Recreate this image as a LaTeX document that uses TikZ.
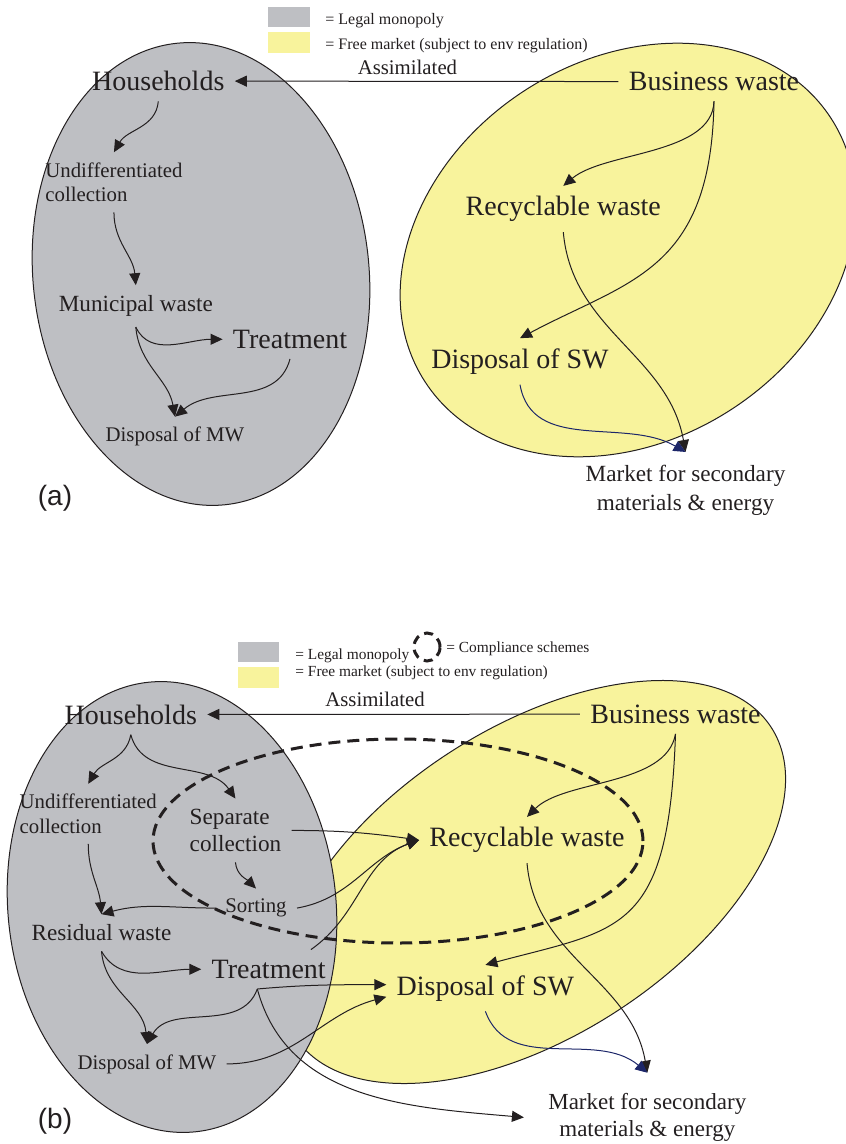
\documentclass[tikz,border=0pt]{standalone}
\usepackage{fontspec}
\setmainfont{Liberation Serif}
\newfontfamily\panelfont{Liberation Sans}
\usetikzlibrary{arrows.meta}
\definecolor{monopoly}{RGB}{190,191,195}
\definecolor{freemkt}{RGB}{248,243,156}
\definecolor{ink}{RGB}{35,31,32}
\definecolor{navy}{RGB}{28,38,105}

\begin{document}
\begin{tikzpicture}[
  x=0.5pt, y=0.5pt,
  >={Triangle[length=6pt,width=5.5pt]},
  flow/.style={->,ink,line width=0.5pt},
  blob/.style={draw=ink,line width=0.5pt},
  scheme/.style={ink,line width=1.5pt,dash pattern=on 6pt off 3.5pt},
  big/.style={font=\fontsize{14}{16}\selectfont,inner sep=5pt,text=ink},
  mid/.style={font=\fontsize{11.6}{14.5}\selectfont,inner sep=5pt,text=ink},
  small/.style={font=\fontsize{10.4}{12.2}\selectfont,inner sep=5pt,text=ink},
  key/.style={font=\fontsize{8}{10}\selectfont,inner sep=0pt,text=ink,anchor=base west},
  panel/.style={font=\panelfont\fontsize{14}{16}\selectfont,text=ink},
]
  \useasboundingbox (0,0) rectangle (845,-1144);

  % (a)
  \draw[blob,fill=freemkt,rotate around={33:(628,-250)}] (628,-250) ellipse (242 and 190);
  \draw[blob,fill=monopoly,rotate around={6:(201,-274)}] (201,-274) ellipse (168 and 232);
  \fill[monopoly] (268,-7) rectangle (310,-27);
  \fill[freemkt] (268,-32) rectangle (310,-53);
  \node[key] (ka1) at (325,-25) {= Legal monopoly};
  \node[key] (ka2) at (325,-49.3) {= Free market (subject to env regulation)};

  \node[big,anchor=base] (hh) at (158.3,-90.7) {Households};
  \node[big,anchor=base] (bw) at (714,-90.7) {Business waste};
  \node[small,anchor=base west,align=left] (ud) at (35,-201.7) {Undifferentiated\\collection};
  \node[mid,anchor=base] (mw) at (135.8,-311.7) {Municipal waste};
  \node[big,anchor=base] (tr) at (290,-348.3) {Treatment};
  \node[small,anchor=base] (dmw) at (175,-441.7) {Disposal of MW};
  \node[big,anchor=base] (rw) at (563.3,-215.7) {Recyclable waste};
  \node[big,anchor=base] (dsw) at (520,-368.3) {Disposal of SW};
  \node[mid,anchor=base,align=center,inner sep=6.5pt] (mk) at (685.5,-510.7)
    {Market for secondary\\materials \& energy};
  \node[panel,anchor=base] (pa) at (55,-505) {(a)};

  \draw[flow] (bw.west) -- node[pos=0.55,above=3pt,small,inner sep=0pt] (asa) {Assimilated} (hh.east);
  \draw[flow] (hh.south) to[out=-95,in=60] (ud.north);
  \draw[flow] (ud.south) to[out=-90,in=95] (mw.north);
  \draw[flow] (mw.south) to[out=-65,in=180] (tr.west);
  \draw[flow] (mw.south) to[out=-85,in=100] (dmw.north);
  \draw[flow] (tr.south) to[out=-105,in=40] (dmw.north);
  \draw[flow] (bw.south) to[out=-92,in=40,looseness=0.8] (rw.north);
  \draw[flow] (bw.south) to[out=-91,in=28,out distance=85pt,in distance=62pt] (dsw.north);
  \draw[flow] (rw.south) to[out=-85,in=100] (mk.north);
  \draw[flow,navy] (dsw.south) to[out=-80,in=150] (mk.north);

  % (b)
  \draw[blob,fill=freemkt,rotate around={33:(533,-882)}] (533,-882) ellipse (284 and 154);
  \draw[blob,fill=monopoly,rotate around={6:(172,-907)}] (172,-907) ellipse (164 and 226);
  \draw[scheme] (398,-841) ellipse (245 and 102);
  \fill[monopoly] (238,-642) rectangle (279,-662);
  \fill[freemkt] (238,-667) rectangle (279,-688);
  \node[key,font=\fontsize{7.7}{9}\selectfont] (kb1) at (295,-659.3) {= Legal monopoly};
  \draw[scheme,dash pattern=on 4.5pt off 3pt] (427,-647) ellipse (13 and 14);
  \node[key,font=\fontsize{7.7}{9}\selectfont] (kb3) at (446,-652.7) {= Compliance schemes};
  \node[key,font=\fontsize{7.7}{9}\selectfont] (kb2) at (295,-676.7) {= Free market (subject to env regulation)};

  \node[big,anchor=base] (hh2) at (130.8,-724) {Households};
  \node[big,anchor=base] (bw2) at (675.5,-723.3) {Business waste};
  \node[small,anchor=base west,align=left] (ud2) at (9.3,-833.3) {Undifferentiated\\collection};
  \node[mid,anchor=base west,align=left,font=\fontsize{11.6}{13.7}\selectfont] (sc) at (179.3,-851.7) {Separate\\collection};
  \node[small,anchor=base] (so) at (256,-912.7) {Sorting};
  \node[mid,anchor=base] (res) at (101.5,-940.7) {Residual waste};
  \node[big,anchor=base] (tr2) at (268.7,-978.3) {Treatment};
  \node[small,anchor=base] (dmw2) at (147,-1069) {Disposal of MW};
  \node[big,anchor=base] (rw2) at (527,-846.7) {Recyclable waste};
  \node[big,anchor=base] (dsw2) at (485.4,-995) {Disposal of SW};
  \node[mid,anchor=base,align=center,inner xsep=12pt,inner ysep=10pt,font=\fontsize{11.5}{13.7}\selectfont] (mk2) at (647.3,-1136.7)
    {Market for secondary\\materials \& energy};
  \node[panel,anchor=base] (pb) at (55,-1128) {(b)};

  \draw[flow] (bw2.west) -- node[pos=0.55,above=3.5pt,small,inner sep=0pt] (asb) {Assimilated} (hh2.east);
  \draw[flow] (hh2.south) to[out=-100,in=60] (ud2.north);
  \draw[flow] (hh2.south) to[out=-75,in=125] (sc.north);
  \draw[flow] (ud2.south) to[out=-90,in=95] (res.north);
  \draw[flow] (sc.south) to[out=-85,in=135] (so.north);
  \draw[flow] (so.west) to[out=180,in=15] (res.north);
  \draw[flow] (res.south) to[out=-60,in=180] (tr2.west);
  \draw[flow] (res.south) to[out=-85,in=95] (dmw2.north);
  \draw[flow] (tr2.-120) to[out=-110,in=60] (dmw2.north);
  \draw[flow] (tr2.-120) to[out=5,in=180] (dsw2.178);
  \draw[flow] (tr2.-120) to[out=-75,in=175] (mk2.west);
  \draw[flow] (tr2.25) to[out=35,in=200] (rw2.west);
  \draw[flow] (so.east) to[out=10,in=200] (rw2.west);
  \draw[flow] (sc.east) to[out=0,in=172] (rw2.west);
  \draw[flow] (dmw2.east) to[out=0,in=195] (dsw2.185);
  \draw[flow] (bw2.south) to[out=-100,in=45,looseness=0.8] (rw2.north);
  \draw[flow] (bw2.south) to[out=-92,in=15,out distance=100pt,in distance=70pt] (dsw2.north);
  \draw[flow] (rw2.south) to[out=-85,in=100] (mk2.north);
  \draw[flow,navy] (dsw2.south) to[out=-70,in=140] (mk2.north);
\end{tikzpicture}
\end{document}
